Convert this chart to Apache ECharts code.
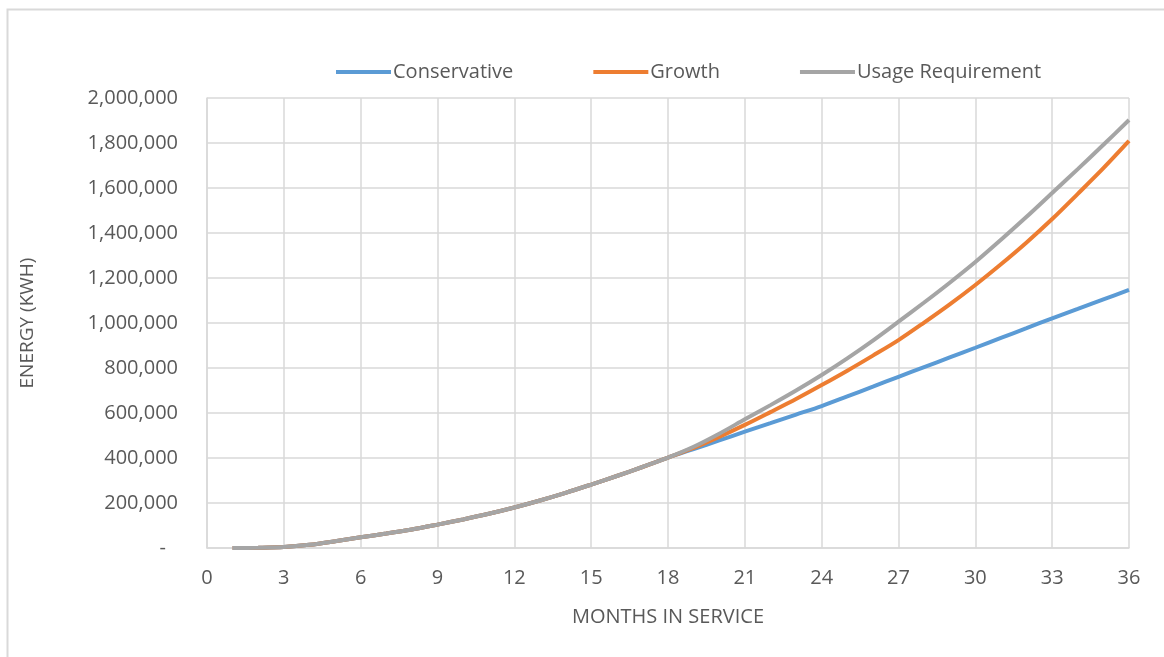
<!DOCTYPE html>
<html>
<head>
<meta charset="utf-8">
<script src="https://cdn.jsdelivr.net/npm/echarts@6/dist/echarts.min.js"></script>
<style>
html,body{margin:0;padding:0;background:#fff;}
#chart{width:1164px;height:657px;}
</style>
</head>
<body>
<div id="chart"></div>
<script>
const months = Array.from({length: 36}, (_, i) => i + 1);
const xTicks = [0,3,6,9,12,15,18,21,24,27,30,33,36];
const seriesNames = ['Conservative', 'Growth', 'Usage Requirement'];
const conservative = [0,1000,4000,14000,30000,48000,64000,82000,104000,127000,152000,180000,211000,245000,282000,320000,360000,402000,
  440000,478000,517000,555000,593000,631000,674000,717000,761000,804000,847000,890000,934000,977000,1021000,1063000,1105000,1147000];
const growth = [0,1000,4000,14000,30000,48000,64000,82000,104000,127000,152000,180000,211000,245000,282000,320000,360000,402000,
  445000,494000,547000,604000,662000,724000,788000,855000,924000,1002000,1083000,1169000,1261000,1358000,1462000,1574000,1688000,1809000];
const usage = [0,1000,4000,14000,30000,48000,64000,82000,104000,127000,152000,180000,211000,245000,282000,320000,360000,402000,
  450000,508000,572000,635000,700000,769000,843000,922000,1006000,1091000,1179000,1271000,1370000,1472000,1578000,1684000,1792000,1902000];
const colors = ['#5B9BD5', '#ED7D31', '#A5A5A5'];
const valuesList = [conservative, growth, usage];

const FONT = 'Open Sans';
const TXT = '#595959';
const GRID = '#d9d9d9';

const chart = echarts.init(document.getElementById('chart'), null, {renderer: 'canvas'});
chart.setOption({
  animation: false,
  backgroundColor: '#fff',
  graphic: [{
    type: 'rect', left: 5, top: 7,
    shape: {width: 1200, height: 700},
    style: {fill: 'none', stroke: GRID, lineWidth: 2},
    silent: true
  }],
  legend: {
    left: 331, top: 57,
    itemWidth: 55, itemHeight: 4, itemGap: 80,
    icon: 'rect',
    textStyle: {fontFamily: FONT, fontSize: 20, color: TXT, padding: [0, 0, 0, -3]},
    data: seriesNames
  },
  grid: {left: 207, right: 35, top: 98, bottom: 109, containLabel: false},
  xAxis: {
    type: 'value', min: 0, max: 36, interval: 3,
    name: 'MONTHS IN SERVICE', nameLocation: 'middle', nameGap: 59,
    nameTextStyle: {fontFamily: FONT, fontSize: 20, color: TXT},
    axisLine: {show: true, lineStyle: {color: GRID, width: 1.5}},
    axisTick: {show: false},
    axisLabel: {fontFamily: FONT, fontSize: 20, color: TXT, margin: 20},
    splitLine: {show: true, lineStyle: {color: GRID, width: 1.5}}
  },
  yAxis: {
    type: 'value', min: 0, max: 2000000, interval: 200000,
    name: 'ENERGY (KWH)', nameLocation: 'middle', nameGap: 170,
    nameTextStyle: {fontFamily: FONT, fontSize: 19, color: TXT},
    axisLine: {show: true, lineStyle: {color: GRID, width: 1.5}},
    axisTick: {show: false},
    axisLabel: {
      fontFamily: FONT, fontSize: 20, color: TXT, margin: 29,
      formatter: v => v === 0 ? '{d|-}' : v.toLocaleString('en-US'),
      rich: {d: {fontFamily: FONT, fontSize: 20, color: TXT, padding: [0, 12, 0, 0]}}
    },
    splitLine: {show: true, lineStyle: {color: GRID, width: 1.5}}
  },
  series: seriesNames.map((name, i) => ({
    name: name,
    type: 'line',
    smooth: 0.3,
    symbol: 'none',
    color: colors[i],
    lineStyle: {color: colors[i], width: 4},
    data: months.map((m, j) => [m, valuesList[i][j]])
  }))
});
</script>
</body>
</html>
